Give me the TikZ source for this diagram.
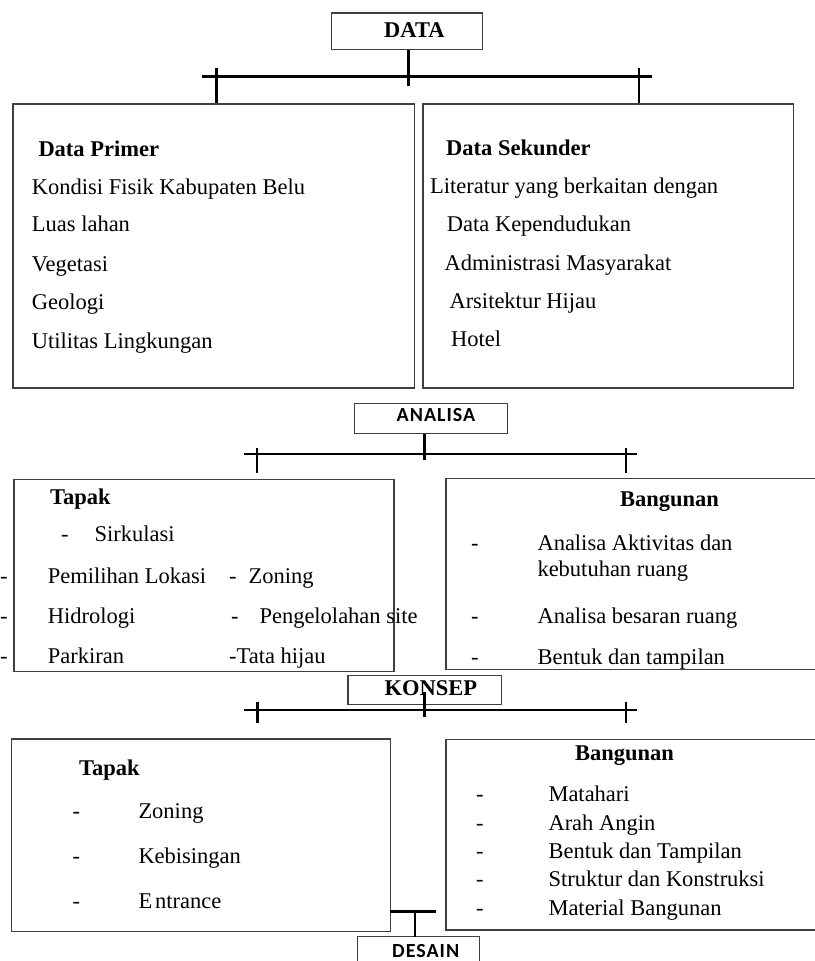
\documentclass[tikz,border=0pt]{standalone}
\usepackage{fontspec}
\setmainfont{Liberation Serif}
\newfontfamily\calib[LetterSpace=5]{Carlito}
\begin{document}
\begin{tikzpicture}[x=1pt,y=-1pt,
  box/.style={draw=black!75,line width=1.4pt,inner sep=0pt,anchor=north west},
  opbox/.style={draw=black!75,line width=1.4pt},
  conn/.style={line width=2.6pt,black},
  txt/.style={anchor=base west,inner sep=0pt,font=\fontsize{22.5}{27}\selectfont},
  btxt/.style={txt,font=\fontsize{22.5}{27}\selectfont\bfseries},
  stxt/.style={anchor=base west,inner sep=0pt,font=\calib\fontsize{20}{24}\selectfont\bfseries}]
\useasboundingbox (0,0) rectangle (814,961);

% ---------- boxes ----------
\node[box,minimum width=151pt,minimum height=36.4pt] (data) at (330.7,12.3) {};
\node[box,minimum width=401.7pt,minimum height=284pt] (prim) at (12.3,103.3) {};
\node[box,minimum width=370.4pt,minimum height=284pt] (sek) at (422.3,103.3) {};
\node[box,minimum width=153pt,minimum height=30pt] (analisa) at (354,403) {};
\node[box,minimum width=380pt,minimum height=191.7pt] (tapakA) at (13.3,479) {};
\draw[opbox] (816,478.3) -- (446,478.3) -- (446,669.3) -- (816,669.3);
\node[box,minimum width=153.7pt,minimum height=29pt] (konsep) at (347.3,675) {};
\node[box,minimum width=379.3pt,minimum height=192.4pt] (tapakB) at (10.7,738.3) {};
\draw[opbox] (816,739.3) -- (446,739.3) -- (446,930) -- (816,930);
\draw[opbox] (357.3,963) -- (357.3,936.7) -- (479.3,936.7) -- (479.3,963);

% ---------- connectors level 1 ----------
\coordinate (l1L) at (201.7,76.3);
\coordinate (l1R) at (651.7,76.3);
\coordinate (l1c) at (408.3,86);
\coordinate (t1a) at (216.7,67.7);
\coordinate (t1b) at (639,67.7);
\draw[conn] (l1L) -- (l1R);
\draw[conn] (data.south -| l1c) -- (l1c);
\draw[conn] (t1a) -- (t1a |- prim.north);
\draw[conn] (t1b) -- (t1b |- sek.north);

% ---------- connectors level 2 ----------
\coordinate (l2L) at (244.3,454);
\coordinate (l2R) at (636.7,454);
\coordinate (l2c) at (424.3,460);
\coordinate (t2a) at (257,448);
\coordinate (t2ae) at (257,473);
\coordinate (t2b) at (626,448);
\coordinate (t2be) at (626,473);
\draw[conn] (l2L) -- (l2R);
\draw[conn] (analisa.south -| l2c) -- (l2c);
\draw[conn] (t2a) -- (t2ae);
\draw[conn] (t2b) -- (t2be);

% ---------- connectors level 3 ----------
\coordinate (l3L) at (244.3,710);
\coordinate (l3R) at (636.7,710);
\coordinate (t3c) at (424.3,691.7);
\coordinate (t3ce) at (424.3,716.7);
\coordinate (t3a) at (257.3,701.7);
\coordinate (t3ae) at (257.3,723);
\coordinate (t3b) at (626,701.7);
\coordinate (t3be) at (626,723);
\draw[conn] (l3L) -- (l3R);
\draw[conn] (t3c) -- (t3ce);
\draw[conn] (t3a) -- (t3ae);
\draw[conn] (t3b) -- (t3be);

% ---------- connector to DESAIN ----------
\coordinate (l4L) at (390,911.7);
\coordinate (l4R) at (436,911.7);
\coordinate (l4c) at (415,911.7);
\coordinate (l4e) at (415,936.7);
\draw[conn] (l4L) -- (l4R);
\draw[conn] (l4c) -- (l4e);

% ---------- titles ----------
\node[btxt] (tData) at (384,37.3) {DATA};
\node[stxt] (tAnalisa) at (396.5,421) {ANALISA};
\node[btxt] (tKonsep) at (384.3,695) {KONSEP};
\node[stxt] (tDesain) at (392,957) {DESAIN};

% ---------- Data Primer ----------
\node[btxt] (p0) at (38.3,156) {Data Primer};
\node[txt] (p1) at (31.7,194.3) {Kondisi Fisik Kabupaten Belu};
\node[txt] (p2) at (31.7,231.7) {Luas lahan};
\node[txt] (p3) at (31.7,271.3) {Vegetasi};
\node[txt] (p4) at (31.7,309) {Geologi};
\node[txt] (p5) at (31.7,348.3) {Utilitas Lingkungan};

% ---------- Data Sekunder ----------
\node[btxt] (s0) at (446,155) {Data Sekunder};
\node[txt] (s1) at (430,193.3) {Literatur yang berkaitan dengan};
\node[txt] (s2) at (446.7,231.7) {Data Kependudukan};
\node[txt] (s3) at (444.3,270) {Administrasi Masyarakat};
\node[txt] (s4) at (449.3,308.3) {Arsitektur Hijau};
\node[txt] (s5) at (451,346.7) {Hotel};

% ---------- Analisa Tapak ----------
\node[btxt] (a0) at (50,504) {Tapak};
\node[txt] (a1d) at (61,541.7) {-};
\node[txt] (a1) at (94.3,541.7) {Sirkulasi};
\node[txt] (a2d) at (0,583.3) {-};
\node[txt] (a2) at (47.7,583.3) {Pemilihan Lokasi};
\node[txt] (a2e) at (229,583.3) {-};
\node[txt] (a2f) at (248.3,583.3) {Zoning};
\node[txt] (a3d) at (0,623.3) {-};
\node[txt] (a3) at (47.7,623.3) {Hidrologi};
\node[txt] (a3e) at (231,623.3) {-};
\node[txt] (a3f) at (259.3,623.3) {Pengelolahan site};
\node[txt] (a4d) at (0,663.3) {-};
\node[txt] (a4) at (47.7,663.3) {Parkiran};
\node[txt] (a4f) at (229,663.3) {-Tata hijau};

% ---------- Analisa Bangunan ----------
\node[btxt] (b0) at (620,506.7) {Bangunan};
\node[txt] (b1d) at (471,550) {-};
\node[txt] (b1) at (537.3,550) {Analisa Aktivitas dan};
\node[txt] (b1b) at (537.3,576.7) {kebutuhan ruang};
\node[txt] (b2d) at (471,623.3) {-};
\node[txt] (b2) at (537.3,623.3) {Analisa besaran ruang};
\node[txt] (b3d) at (471,664) {-};
\node[txt] (b3) at (537.3,664) {Bentuk dan tampilan};

% ---------- Konsep Tapak ----------
\node[btxt] (k0) at (79,775) {Tapak};
\node[txt] (k1d) at (72.5,818.3) {-};
\node[txt] (k1) at (138.3,818.3) {Zoning};
\node[txt] (k2d) at (72.5,863.3) {-};
\node[txt] (k2) at (138.3,863.3) {Kebisingan};
\node[txt] (k3d) at (72.5,908.3) {-};
\node[txt] (k3) at (138.3,908.3) {E\kern3pt ntrance};

% ---------- Konsep Bangunan ----------
\node[btxt] (m0) at (575,760) {Bangunan};
\node[txt] (m1d) at (476,801.7) {-};
\node[txt] (m1) at (548.3,801.7) {Matahari};
\node[txt] (m2d) at (476,830) {-};
\node[txt] (m2) at (548.3,830) {Arah Angin};
\node[txt] (m3d) at (476,858.3) {-};
\node[txt] (m3) at (548.3,858.3) {Bentuk dan Tampilan};
\node[txt] (m4d) at (476,886.7) {-};
\node[txt] (m4) at (548.3,886.7) {Struktur dan Konstruksi};
\node[txt] (m5d) at (476,915) {-};
\node[txt] (m5) at (548.3,915) {Material Bangunan};
\end{tikzpicture}
\end{document}
